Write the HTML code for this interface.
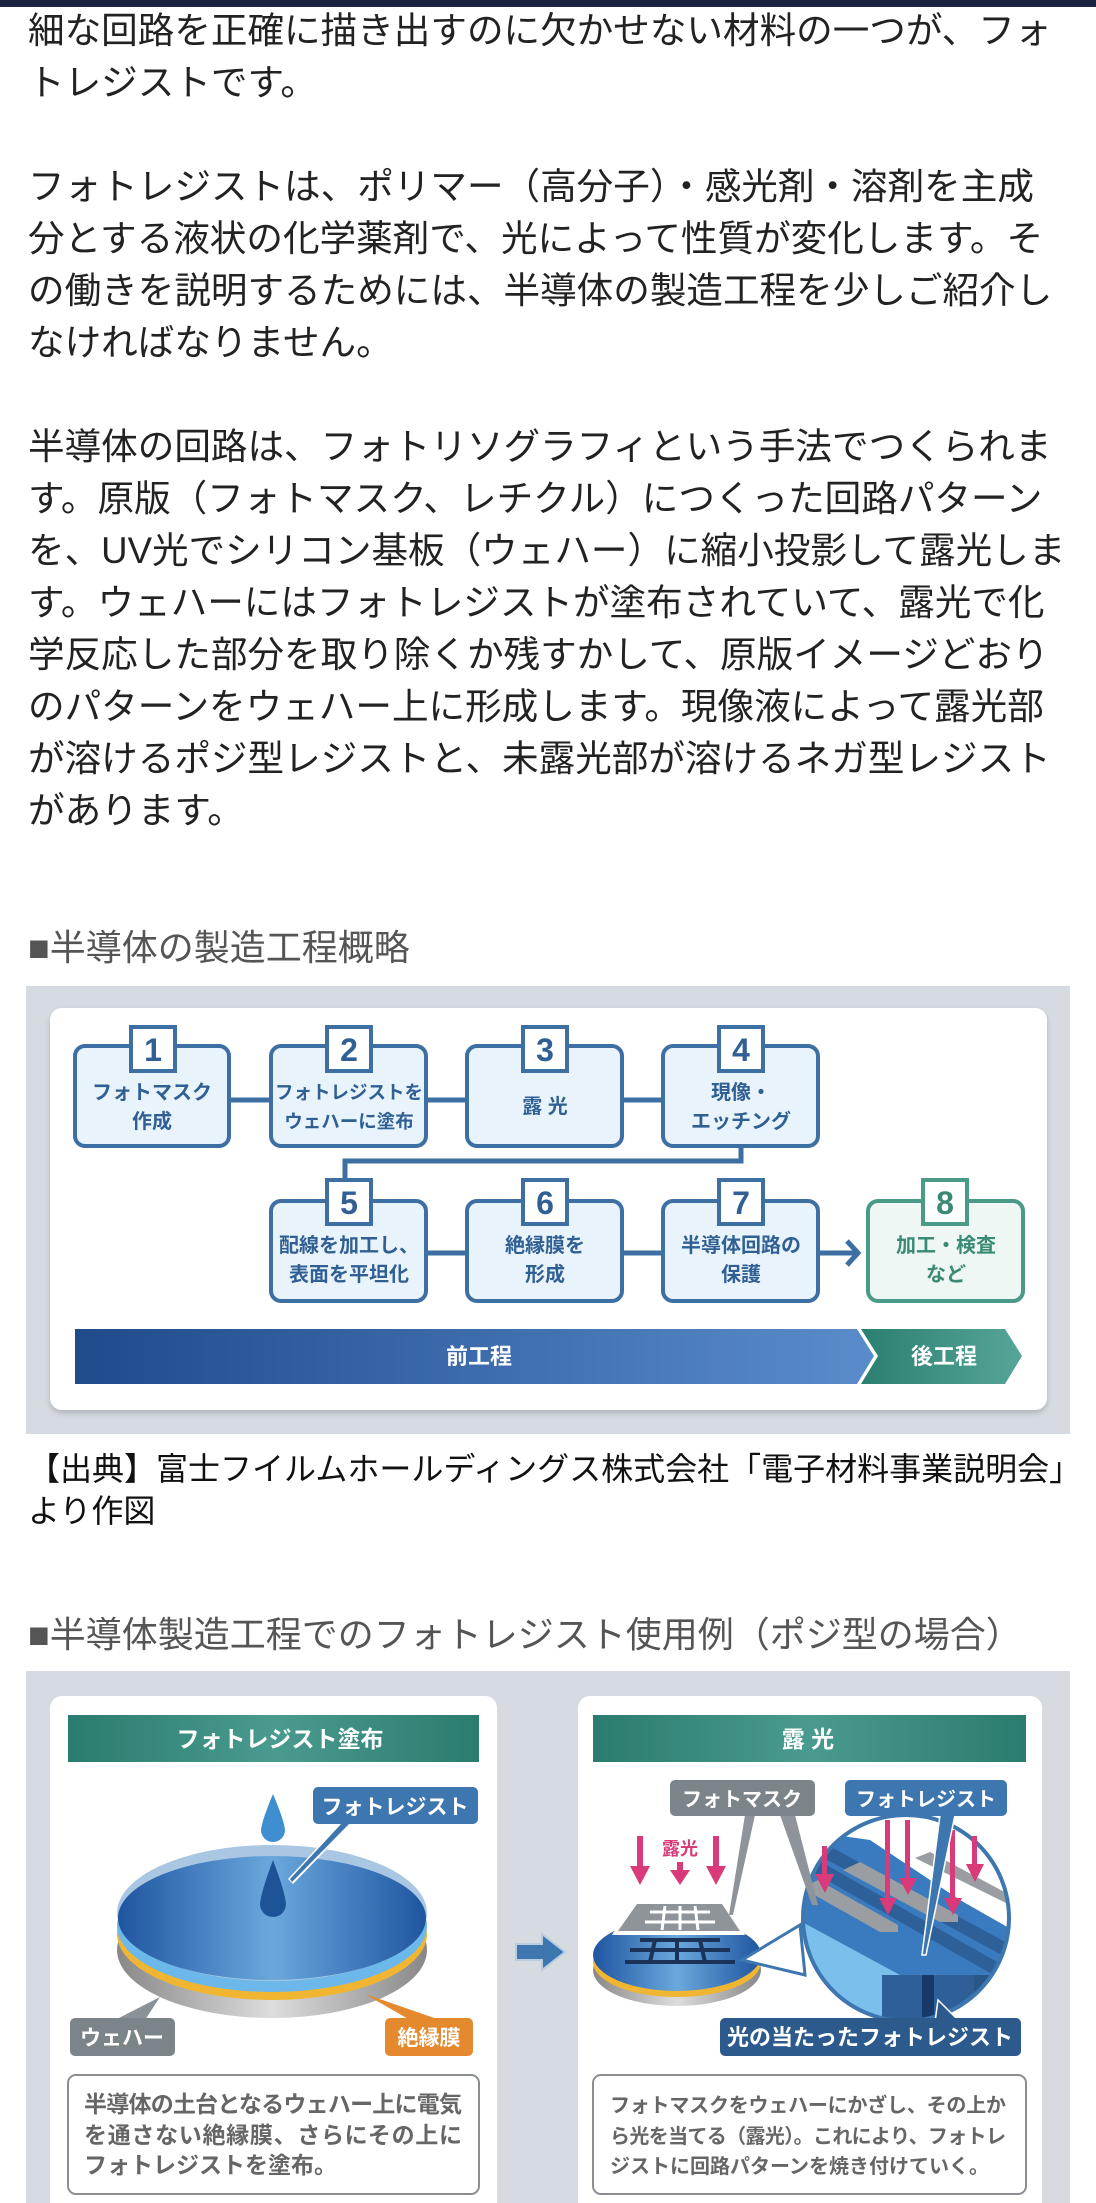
<!DOCTYPE html>
<html><head><meta charset="utf-8"><style>
*{margin:0;padding:0;box-sizing:border-box}
body{width:1096px;height:2203px;background:#fff;position:relative;overflow:hidden;font-family:"Liberation Sans","Noto Sans CJK JP",sans-serif}
.t{position:absolute;left:28px;font-size:36.6px;line-height:52px;color:#222;white-space:nowrap}
.h{position:absolute;left:28px;font-size:36px;line-height:50px;color:#555;white-space:nowrap}
svg{position:absolute;left:0;top:0}
</style></head><body>
<div style="position:absolute;left:0;top:0;width:1096px;height:7px;background:#1c2340"></div>
<div class="t" style="top:5px">細な回路を正確に描き出すのに欠かせない材料の一つが、フォ<br>トレジストです。<br><br>フォトレジストは、ポリマー（高分子）・感光剤・溶剤を主成<br>分とする液状の化学薬剤で、光によって性質が変化します。そ<br>の働きを説明するためには、半導体の製造工程を少しご紹介し<br>なければなりません。<br><br>半導体の回路は、フォトリソグラフィという手法でつくられま<br>す。原版（フォトマスク、レチクル）につくった回路パターン<br>を、UV光でシリコン基板（ウェハー）に縮小投影して露光しま<br>す。ウェハーにはフォトレジストが塗布されていて、露光で化<br>学反応した部分を取り除くか残すかして、原版イメージどおり<br>のパターンをウェハー上に形成します。現像液によって露光部<br>が溶けるポジ型レジストと、未露光部が溶けるネガ型レジスト<br>があります。</div>
<div class="h" style="top:923px">■半導体の製造工程概略</div>
<div class="t" style="top:1448px;font-size:32px;line-height:42px;color:#111">【出典】富士フイルムホールディングス株式会社「電子材料事業説明会」<br>より作図</div>
<div class="h" style="top:1610px">■半導体製造工程でのフォトレジスト使用例（ポジ型の場合）</div>

<svg width="1096" height="2203" viewBox="0 0 1096 2203" font-family="Liberation Sans, Noto Sans CJK JP, sans-serif">
<defs>
<linearGradient id="bb" x1="0" x2="1"><stop offset="0" stop-color="#1f4b8c"/><stop offset="1" stop-color="#5a8ccb"/></linearGradient>
<linearGradient id="gb" x1="0" x2="1"><stop offset="0" stop-color="#2b7f70"/><stop offset="1" stop-color="#55a698"/></linearGradient>
<linearGradient id="tb" x1="0" x2="1"><stop offset="0" stop-color="#2a7c6f"/><stop offset="0.5" stop-color="#4a9b8f"/><stop offset="1" stop-color="#2a7c6f"/></linearGradient>
<linearGradient id="wf" x1="0" x2="1"><stop offset="0" stop-color="#1f55a0"/><stop offset="0.5" stop-color="#6aa8dc"/><stop offset="1" stop-color="#1f55a0"/></linearGradient>
<linearGradient id="gr" x1="0" x2="1"><stop offset="0" stop-color="#888"/><stop offset="0.5" stop-color="#ddd"/><stop offset="1" stop-color="#888"/></linearGradient>
<filter id="sh" x="-5%" y="-5%" width="110%" height="115%"><feDropShadow dx="0" dy="3" stdDeviation="3" flood-color="#000" flood-opacity="0.18"/></filter>
<clipPath id="cc"><circle cx="906" cy="1918" r="102"/></clipPath>
</defs>

<!-- Diagram 1 -->
<rect x="26" y="986" width="1044" height="448" fill="#d5dbe0"/>
<rect x="50" y="1008" width="997" height="402" rx="12" fill="#fff" filter="url(#sh)"/>
<g stroke="#3e6fa3" stroke-width="5" fill="none">
<line x1="229" y1="1100" x2="271" y2="1100"/><line x1="426" y1="1100" x2="467" y2="1100"/><line x1="622" y1="1100" x2="663" y2="1100"/>
<polyline points="741,1146 741,1161 345,1161 345,1190"/>
<line x1="426" y1="1253" x2="467" y2="1253"/><line x1="622" y1="1253" x2="663" y2="1253"/>
<line x1="818" y1="1253" x2="856" y2="1253"/><polyline points="847,1241 858,1253 847,1265"/>
</g>
<g stroke="#3e6fa3" stroke-width="4" fill="#e9f3fb">
<rect x="75" y="1046" width="154" height="100" rx="10"/><rect x="271" y="1046" width="155" height="100" rx="10"/>
<rect x="467" y="1046" width="155" height="100" rx="10"/><rect x="663" y="1046" width="155" height="100" rx="10"/>
<rect x="271" y="1201" width="155" height="100" rx="10"/><rect x="467" y="1201" width="155" height="100" rx="10"/>
<rect x="663" y="1201" width="155" height="100" rx="10"/>
</g>
<rect x="868" y="1201" width="155" height="100" rx="10" stroke="#4a9a88" stroke-width="4" fill="#eef7f3"/>
<g stroke="#3e6fa3" stroke-width="4" fill="#fff">
<rect x="131" y="1027" width="44" height="44"/><rect x="327" y="1027" width="44" height="44"/><rect x="523" y="1027" width="44" height="44"/><rect x="719" y="1027" width="44" height="44"/>
<rect x="327" y="1180" width="44" height="44"/><rect x="523" y="1180" width="44" height="44"/><rect x="719" y="1180" width="44" height="44"/>
</g>
<rect x="923" y="1180" width="44" height="44" stroke="#4a9a88" stroke-width="4" fill="#fff"/>
<g font-size="32" font-weight="bold" fill="#2f5f93" text-anchor="middle">
<text x="153" y="1061">1</text><text x="349" y="1061">2</text><text x="545" y="1061">3</text><text x="741" y="1061">4</text>
<text x="349" y="1214">5</text><text x="545" y="1214">6</text><text x="741" y="1214">7</text><text x="945" y="1214" fill="#3a8a76">8</text>
</g>
<g font-size="20" font-weight="bold" fill="#2f5f93" text-anchor="middle">
<text x="152" y="1099">フォトマスク</text><text x="152" y="1128">作成</text>
<text x="349" y="1099" font-size="18.5">フォトレジストを</text><text x="349" y="1128" font-size="18.5">ウェハーに塗布</text>
<text x="545" y="1113">露 光</text>
<text x="741" y="1099">現像・</text><text x="741" y="1128">エッチング</text>
<text x="349" y="1252">配線を加工し、</text><text x="349" y="1281">表面を平坦化</text>
<text x="545" y="1252">絶縁膜を</text><text x="545" y="1281">形成</text>
<text x="741" y="1252">半導体回路の</text><text x="741" y="1281">保護</text>
<text x="946" y="1252" fill="#3a8a76">加工・検査</text><text x="946" y="1281" fill="#3a8a76">など</text>
</g>
<polygon points="75,1329 857,1329 874,1356 857,1384 75,1384" fill="url(#bb)"/>
<polygon points="861,1329 1005,1329 1022,1356 1005,1384 861,1384 878,1356" fill="url(#gb)"/>
<g font-size="22" font-weight="bold" fill="#fff" text-anchor="middle"><text x="479" y="1364">前工程</text><text x="944" y="1364">後工程</text></g>

<!-- Diagram 2 -->
<rect x="26" y="1671" width="1044" height="532" fill="#d5dbe0"/>
<rect x="50" y="1696" width="447" height="530" rx="12" fill="#fff"/>
<rect x="578" y="1696" width="464" height="530" rx="12" fill="#fff"/>
<rect x="68" y="1715" width="411" height="47" fill="url(#tb)"/>
<rect x="593" y="1715" width="433" height="47" fill="url(#tb)"/>
<g font-size="23" font-weight="bold" fill="#fff" text-anchor="middle"><text x="280" y="1747">フォトレジスト塗布</text><text x="808" y="1747">露 光</text></g>

<!-- wafer left -->
<ellipse cx="272" cy="1950" rx="155" ry="68" fill="url(#gr)"/>
<ellipse cx="272" cy="1934" rx="155" ry="66" fill="#f0b632"/>
<ellipse cx="272" cy="1926" rx="155" ry="66" fill="#6cb8ea"/>
<ellipse cx="272" cy="1913" rx="155" ry="68" fill="#a9c7e3"/>
<ellipse cx="272" cy="1918" rx="154" ry="62" fill="url(#wf)"/>
<path d="M273,1794 Q262,1820 261,1830 A12,12 0 0 0 285,1830 Q284,1820 273,1794Z" fill="#3f8fd0"/>
<path d="M273,1860 Q261,1892 260,1904 A13,13 0 0 0 286,1904 Q285,1892 273,1860Z" fill="#1d5497"/>
<polygon points="288,1879 340,1823 352,1823 293,1884" fill="#fff"/>
<polygon points="290,1879 342,1823 350,1823 292,1882" fill="#3e77b0"/>
<rect x="313" y="1787" width="165" height="37" rx="5" fill="#3e77b0"/>
<text x="395" y="1814" font-size="21" font-weight="bold" fill="#fff" text-anchor="middle">フォトレジスト</text>
<polygon points="115,2020 145,2020 160,1997" fill="#8a9298"/>
<rect x="70" y="2018" width="105" height="38" rx="5" fill="#7b8489"/>
<text x="122" y="2045" font-size="21" font-weight="bold" fill="#fff" text-anchor="middle">ウェハー</text>
<polygon points="410,2020 440,2020 365,1994" fill="#e5892f"/>
<rect x="385" y="2018" width="88" height="38" rx="5" fill="#e5892f"/>
<text x="429" y="2045" font-size="21" font-weight="bold" fill="#fff" text-anchor="middle">絶縁膜</text>

<!-- arrow -->
<polygon points="516,1944 542,1944 542,1934 565,1952 542,1970 542,1960 516,1960" fill="#3e77b0" stroke="#b8cde3" stroke-width="2"/>

<!-- right wafer -->
<ellipse cx="677" cy="1970" rx="84" ry="36" fill="url(#gr)"/>
<ellipse cx="677" cy="1962" rx="84" ry="35" fill="#f0b632"/>
<ellipse cx="677" cy="1955" rx="84" ry="36" fill="url(#wf)"/>
<g stroke="#1b3358" stroke-width="4"><line x1="630" y1="1950" x2="730" y2="1950"/><line x1="625" y1="1962" x2="735" y2="1962"/><line x1="640" y1="1940" x2="720" y2="1940"/><line x1="655" y1="1940" x2="650" y2="1962"/><line x1="677" y1="1940" x2="677" y2="1962"/><line x1="700" y1="1940" x2="705" y2="1962"/></g>
<polygon points="612,1935 745,1935 725,1900 633,1900" fill="#fff"/>
<polygon points="618,1931 740,1931 722,1904 637,1904" fill="#8e9499"/>
<g stroke="#fff" stroke-width="3"><line x1="650" y1="1912" x2="710" y2="1912"/><line x1="645" y1="1922" x2="715" y2="1922"/><line x1="665" y1="1906" x2="662" y2="1930"/><line x1="680" y1="1906" x2="680" y2="1930"/><line x1="695" y1="1906" x2="698" y2="1930"/></g>
<g fill="#d83a7a"><rect x="637" y="1836" width="6" height="32"/><polygon points="630,1866 650,1866 640,1885"/>
<rect x="677" y="1862" width="6" height="10"/><polygon points="670,1870 690,1870 680,1885"/>
<rect x="713" y="1836" width="6" height="32"/><polygon points="706,1866 726,1866 716,1885"/></g>
<text x="680" y="1855" font-size="18" font-weight="bold" fill="#d83a7a" text-anchor="middle">露光</text>

<!-- circle detail -->
<polygon points="742,1960 800,1925 805,1975" fill="#fff" stroke="#3e77b0" stroke-width="3"/>
<circle cx="906" cy="1918" r="104" fill="#3e77b0"/>
<g clip-path="url(#cc)">
<rect x="790" y="1800" width="240" height="240" fill="#3a7bc0"/>
<polygon points="790,1800 1030,1800 1030,1940 960,1900 870,1840 800,1830" fill="#fff"/>
<polygon points="800,1830 1020,1950 1020,1965 800,1845" fill="#2d5f98"/>
<polygon points="800,1850 1020,1975 1020,1990 800,1865" fill="#2d5f98"/>
<polygon points="780,1910 900,1975 900,2040 780,2040" fill="#7bbfec"/>
<rect x="882" y="1975" width="40" height="60" fill="#2f5f98"/><rect x="922" y="1975" width="12" height="60" fill="#173a6a"/><rect x="934" y="1975" width="40" height="60" fill="#2f5f98"/><rect x="974" y="1975" width="50" height="60" fill="#2a5588"/>
<polygon points="802,1888 880,1932 898,1932 898,1925 818,1880" fill="#9a9ea2"/>
<polygon points="843,1870 940,1922 958,1922 958,1915 860,1862" fill="#9a9ea2"/>
<polygon points="915,1858 1010,1905 1010,1895 930,1852" fill="#9a9ea2"/>
</g>
<circle cx="906" cy="1918" r="103" fill="none" stroke="#3e77b0" stroke-width="4"/>
<g fill="#d83a7a"><rect x="822" y="1846" width="5" height="30"/><polygon points="815,1874 834,1874 825,1893"/>
<rect x="885" y="1820" width="5" height="80"/><polygon points="879,1898 897,1898 888,1915"/>
<rect x="905" y="1820" width="5" height="60"/><polygon points="899,1878 917,1878 908,1895"/>
<rect x="950" y="1830" width="5" height="70"/><polygon points="944,1898 962,1898 953,1915"/>
<rect x="972" y="1836" width="5" height="30"/><polygon points="966,1864 984,1864 975,1882"/></g>
<polygon points="745,1815 755,1815 733,1915 729,1915" fill="#8e9499"/>
<polygon points="780,1815 795,1815 818,1905 812,1905" fill="#8e9499"/>
<rect x="670" y="1780" width="145" height="36" rx="5" fill="#7b8489"/>
<text x="742" y="1806" font-size="20" font-weight="bold" fill="#fff" text-anchor="middle">フォトマスク</text>
<polygon points="940,1815 955,1815 926,1955 922,1955" fill="#3e77b0" stroke="#fff" stroke-width="1.5"/>
<rect x="845" y="1780" width="162" height="36" rx="5" fill="#3e77b0"/>
<text x="926" y="1806" font-size="20" font-weight="bold" fill="#fff" text-anchor="middle">フォトレジスト</text>
<polygon points="938,2000 960,2022 935,2022" fill="#2d5a8c" stroke="#fff" stroke-width="1.5"/>
<rect x="720" y="2018" width="301" height="38" rx="5" fill="#2d5a8c"/>
<text x="870" y="2045" font-size="22" font-weight="bold" fill="#fff" text-anchor="middle">光の当たったフォトレジスト</text>

<rect x="68" y="2075" width="411" height="119" rx="8" fill="#fff" stroke="#8a8e92" stroke-width="2"/>
<rect x="593" y="2075" width="433" height="119" rx="8" fill="#fff" stroke="#8a8e92" stroke-width="2"/>
<g font-size="23" font-weight="bold" fill="#666">
<text x="84" y="2112" textLength="378">半導体の土台となるウェハー上に電気</text>
<text x="84" y="2143" textLength="378">を通さない絶縁膜、さらにその上に</text>
<text x="84" y="2173">フォトレジストを塗布。</text>
<text x="610" y="2112" font-size="20" textLength="396">フォトマスクをウェハーにかざし、その上か</text>
<text x="610" y="2143" font-size="20" textLength="396">ら光を当てる（露光）。これにより、フォトレ</text>
<text x="610" y="2173" font-size="20">ジストに回路パターンを焼き付けていく。</text>
</g>
</svg>
</body></html>
